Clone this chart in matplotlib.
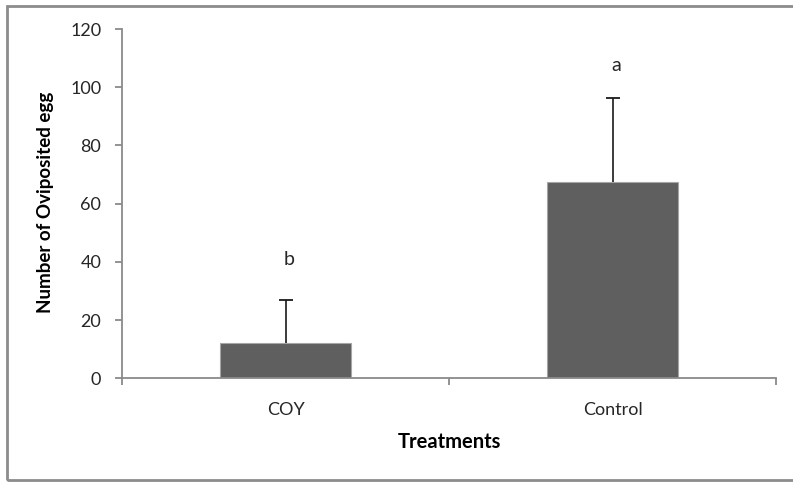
import matplotlib
matplotlib.use("Agg")
import matplotlib.pyplot as plt
from matplotlib.patches import Rectangle

# Data
treatments = ["COY", "Control"]
mean_eggs = [12.0, 67.3]
sd_eggs = [14.8, 28.9]
group_letters = ["b", "a"]
letter_heights = [40.8, 107.3]
y_ticks = [0, 20, 40, 60, 80, 100, 120]

plt.rcParams["font.family"] = ["Lato", "DejaVu Sans"]

fig = plt.figure(figsize=(7.93, 4.82), dpi=100)
fig.patch.set_facecolor("white")

# Outer chart frame (runs past the right edge)
fig.add_artist(Rectangle((7 / 793, 2 / 482), 800 / 793, 474 / 482,
                         transform=fig.transFigure, fill=False,
                         edgecolor="#8c8c8c", linewidth=2.0))

ax = fig.add_axes([122 / 793, 1 - 378.3 / 482, 654 / 793, 349.3 / 482])

axis_col = "#8a8a8a"
text_col = "#262626"
x = list(range(len(treatments)))

ax.bar(x, mean_eggs, width=0.4, color="#5f5f5f", edgecolor="#a6a6a6",
       linewidth=0.8, zorder=2)
_, caps, _ = ax.errorbar(x, mean_eggs, yerr=[[0] * len(sd_eggs), sd_eggs],
                         fmt="none", ecolor="#1a1a1a", elinewidth=1.2,
                         capsize=5, capthick=1.3, zorder=3)
caps[0].set_visible(False)  # no cap at the bar top

for xi, lab, h in zip(x, group_letters, letter_heights):
    ax.text(xi + 0.01, h, lab, ha="center", va="center", fontsize=14,
            color=text_col)

ax.set_xlim(-0.5, 1.5)
ax.set_ylim(0, 120)
ax.set_yticks(y_ticks)
ax.set_xticks(x)
ax.set_xticklabels(treatments)
ax.set_xticks([-0.5, 0.5, 1.5], minor=True)

for side in ["top", "right"]:
    ax.spines[side].set_visible(False)
for side in ["left", "bottom"]:
    ax.spines[side].set_color(axis_col)
    ax.spines[side].set_linewidth(1.3)

ax.tick_params(axis="y", direction="out", length=5, width=1.3, color=axis_col,
               labelsize=13, labelcolor=text_col, pad=10)
ax.tick_params(axis="x", which="major", length=0, labelsize=13,
               labelcolor=text_col, pad=17)
ax.tick_params(axis="x", which="minor", direction="out", length=5, width=1.3,
               color=axis_col)

ax.set_xlabel("Treatments", fontsize=14.5, fontweight="bold", color="black",
              labelpad=10)
ax.set_ylabel("Number of Oviposited egg", fontsize=13.5, fontweight="bold",
              color="black")
ax.yaxis.set_label_coords(-0.104, 0.505)

fig.savefig("out.png", dpi=100, facecolor="white")
